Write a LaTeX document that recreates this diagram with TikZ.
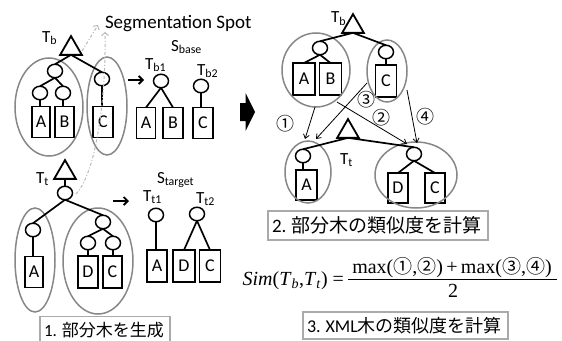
\documentclass[tikz,border=0pt]{standalone}
\usepackage{fontspec}
\setmainfont{Carlito}
\newfontfamily\cjk{Noto Sans CJK JP}
\newfontfamily\tnr{Liberation Serif}
\usetikzlibrary{shapes.geometric,arrows.meta}
\definecolor{grpc}{RGB}{135,135,135}
\definecolor{boxc}{RGB}{170,170,170}
\definecolor{segc}{RGB}{185,185,185}
\tikzset{
 every node/.style={outer sep=0pt},
 edge/.style={line width=1.7pt},
 nd/.style={ellipse,draw,line width=1.5pt,minimum width=15pt,minimum height=13.5pt,inner sep=0pt},
 leaf/.style={draw,line width=1.5pt,inner sep=0pt,minimum width=19pt,minimum height=31pt,font=\fontsize{18}{18}\selectfont},
 tri/.style={regular polygon,regular polygon sides=3,draw,line width=1.8pt,minimum size=25pt,inner sep=0pt},
 grp/.style={ellipse,draw=grpc,line width=1.5pt,inner sep=0pt},
 lab/.style={font=\fontsize{17}{17}\selectfont,inner sep=0pt,anchor=base west},
 num/.style={font=\cjk\fontsize{18}{18}\selectfont,inner sep=0pt},
 thin/.style={line width=0.8pt,-{Straight Barb[length=4pt,width=6pt]}},
 small/.style={line width=1.8pt,-{Straight Barb[length=4pt,width=8pt]}},
 seg/.style={draw=segc,line width=1pt,dash pattern=on 3pt off 2pt on 1pt off 2pt,-{Straight Barb[length=3pt,width=7pt]}},
 stepbox/.style={draw=boxc,line width=1.5pt,fill=white,inner xsep=4pt,inner ysep=0pt,align=left},
}
\begin{document}
\begin{tikzpicture}[x=1pt,y=-1pt]
\useasboundingbox (0,0) rectangle (562,340);

% ---------- left top: T_b ----------
\node[lab] (segtxt) at (105,28) {\fontsize{19}{19}\selectfont Segmentation Spot};
\node[lab] (tbl) at (42,42) {T\textsubscript{b}};
\node[tri] (t1) at (71,48.6) {};
\node[nd] (n1) at (55,71) {};
\node[nd] (n11) at (40,93) {};
\node[nd] (n12) at (63,93) {};
\node[nd] (n2) at (102,79) {};
\node[leaf,minimum width=18pt] (la) at (41,122) {A};
\node[leaf] (lb) at (64.5,122) {B};
\node[leaf,minimum width=20pt] (lc) at (103,122) {C};
\node[grp,minimum width=68pt,minimum height=98pt] (e1) at (49,107) {};
\node[grp,minimum width=40pt,minimum height=98pt] (e2) at (107,106) {};
\draw[edge] (t1.south) -- (n1.north);
\draw[edge] (t1.south) -- (n2.north);
\draw[edge] (n1.south) -- (n11.north);
\draw[edge] (n1.south) -- (n12.north);
\draw[edge] (n11.south) -- (n11.south |- la.north);
\draw[edge] (n12.south) -- (n12.south |- lb.north);
\draw[edge] (n2.south) -- (n2.south |- lc.north);

% segmentation spot arrows
\coordinate (s1a) at (82,51);
\coordinate (s1b) at (98,25);
\coordinate (s2a) at (76,194);
\coordinate (s2b) at (105,32);
\draw[seg] (s1a) -- (s1b);
\draw[seg] (s2a) .. controls (98,170) and (106,90) .. (s2b);

% ---------- S_base ----------
\coordinate (ar1a) at (128,80);
\coordinate (ar1b) at (144,80);
\draw[small] (ar1a) -- (ar1b);
\node[lab] (sbl) at (171,51) {S\textsubscript{base}};
\node[lab] (tb1l) at (145,69) {T\textsubscript{b1}};
\node[lab] (tb2l) at (197,75) {T\textsubscript{b2}};
\node[nd] (m1) at (161,81) {};
\node[leaf] (ma) at (146,123) {A};
\node[leaf,minimum width=20pt] (mb) at (173,123) {B};
\node[nd] (m2) at (201,86) {};
\node[leaf,minimum width=20pt] (mc) at (203,123) {C};
\draw[edge] (m1.south) -- (ma.north);
\draw[edge] (m1.south) -- (mb.north);
\draw[edge] (m2.south) -- (m2.south |- mc.north);

% big arrow
\fill (240,103) -- (245.5,103) -- (245.5,93) -- (255,112) -- (245.5,131) -- (245.5,121) -- (240,121) -- cycle;

% ---------- left bottom: T_t ----------
\node[lab] (ttl) at (36,183) {T\textsubscript{t}};
\node[tri] (t2) at (65,172.6) {};
\node[nd] (p0) at (65,193) {};
\node[nd] (p1) at (33,230) {};
\node[nd] (p2) at (103,222) {};
\node[nd] (p21) at (88,243) {};
\node[nd] (p22) at (113,243) {};
\node[leaf,minimum width=18pt] (pa) at (34,272) {A};
\node[leaf,minimum width=20pt,minimum height=32pt] (pd) at (88,272) {D};
\node[leaf,minimum height=32pt] (pc) at (112.5,272) {C};
\node[grp,minimum width=40pt,minimum height=104pt] (f1) at (35,260) {};
\node[grp,minimum width=70pt,minimum height=106pt] (f2) at (98,261) {};
\draw[edge] (t2.south) -- (p0.north);
\draw[edge] (p0.south) -- (p1.north);
\draw[edge] (p0.south) -- (p2.north);
\draw[edge] (p1.south) -- (p1.south |- pa.north);
\draw[edge] (p2.south) -- (p21.north);
\draw[edge] (p2.south) -- (p22.north);
\draw[edge] (p21.south) -- (p21.south |- pd.north);
\draw[edge] (p22.south) -- (p22.south |- pc.north);

% ---------- S_target ----------
\coordinate (ar2a) at (113,201);
\coordinate (ar2b) at (129,201);
\draw[small] (ar2a) -- (ar2b);
\node[lab] (stl) at (157,183) {S\textsubscript{target}};
\node[lab] (tt1l) at (143,201) {T\textsubscript{t1}};
\node[lab] (tt2l) at (196,203) {T\textsubscript{t2}};
\node[nd] (q1) at (156,215) {};
\node[leaf,minimum width=20pt,minimum height=32pt] (qa) at (157,266) {A};
\node[nd] (q2) at (197,214) {};
\node[leaf,minimum width=22pt,minimum height=32pt] (qd) at (184,266) {D};
\node[leaf,minimum width=21pt,minimum height=32pt] (qc) at (210,266) {C};
\draw[edge] (q1.south) -- (q1.south |- qa.north);
\draw[edge] (q2.south) -- (qd.north);
\draw[edge] (q2.south) -- (qc.north);

% ---------- right top: T_b ----------
\node[lab] (tbr) at (331,23) {T\textsubscript{b}};
\node[tri] (t3) at (353,26.6) {};
\node[nd] (r1) at (320,48) {};
\node[leaf,minimum width=22pt,minimum height=32pt] (ra) at (304,79) {A};
\node[leaf,minimum width=22pt,minimum height=32pt] (rb) at (330.5,79) {B};
\node[nd] (r2) at (386,52) {};
\node[leaf,minimum width=21pt,minimum height=32pt] (rc) at (386,81) {C};
\node[grp,minimum width=68pt,minimum height=74pt] (g1) at (316,70) {};
\node[grp,minimum width=40pt,minimum height=62pt] (g2) at (387,71) {};
\draw[edge] (t3.south) -- (r1.north);
\draw[edge] (t3.south) -- (r2.north);
\draw[edge] (r1.south) -- (ra.north);
\draw[edge] (r1.south) -- (rb.north);
\draw[edge] (r2.south) -- (r2.south |- rc.north);

% ---------- right bottom: T_t ----------
\node[lab] (ttr) at (340,164) {T\textsubscript{t}};
\node[tri] (t4) at (348,131.6) {};
\node[nd] (s1) at (303,156) {};
\node[leaf,minimum width=21pt,minimum height=30pt] (sa) at (306.5,185) {A};
\node[nd] (s2) at (414,154) {};
\node[leaf,minimum width=20pt,minimum height=30pt] (sd) at (398,188) {D};
\node[leaf,minimum width=20pt,minimum height=30pt] (sc) at (435,188) {C};
\node[grp,minimum width=46pt,minimum height=62pt] (h1) at (308,172) {};
\node[grp,minimum width=82pt,minimum height=66pt] (h2) at (416,175) {};
\draw[edge] (t4.south) -- (s1.north);
\draw[edge] (t4.south) -- (s2.north);
\draw[edge] (s1.south) -- (s1.south |- sa.north);
\draw[edge] (s2.south) -- (sd.north);
\draw[edge] (s2.south) -- (sc.north);

% comparison arrows
\coordinate (c1a) at (315,107);
\coordinate (c1b) at (305,139);
\coordinate (c3a) at (367,83);
\coordinate (c3b) at (316,139);
\coordinate (c2a) at (337,102);
\coordinate (c2b) at (407,144);
\coordinate (c4a) at (407,90);
\coordinate (c4b) at (417,143);
\draw[thin] (c1a) -- (c1b);
\draw[thin] (c3a) -- (c3b);
\draw[thin] (c2a) -- (c2b);
\draw[thin] (c4a) -- (c4b);
\node[num] (k1) at (285,124) {①};
\node[num] (k3) at (366,100) {③};
\node[num] (k2) at (381,118) {②};
\node[num] (k4) at (425,117) {④};

% ---------- step boxes ----------
\node[stepbox,minimum width=130pt,minimum height=28pt,text width=122pt] (b1) at (105,330.5)
  {\fontsize{17}{17}\selectfont 1. {\cjk 部分木を生成}};
\node[stepbox,minimum width=220pt,minimum height=29pt,text width=212pt] (b2) at (378,225.5)
  {\fontsize{19}{19}\selectfont 2. {\cjk 部分木の類似度を計算}};
\node[stepbox,minimum width=205pt,minimum height=27pt,text width=197pt] (b3) at (405.5,325.5)
  {\fontsize{18}{18}\selectfont 3. XML{\cjk 木の類似度を計算}};

% ---------- formula ----------
\node[inner sep=0pt,anchor=base east,font=\tnr\fontsize{20}{20}\selectfont] (lhs) at (344,285)
  {\textit{Sim}(\textit{T}\textsubscript{\textit{b}},\textit{T}\textsubscript{\textit{t}}) =};
\node[inner sep=0pt,anchor=base,font=\tnr\fontsize{20}{20}\selectfont] (numer) at (452,273)
  {max({\cjk\fontsize{19}{19}\selectfont ①},{\cjk\fontsize{19}{19}\selectfont ②})\,+\,max({\cjk\fontsize{19}{19}\selectfont ③},{\cjk\fontsize{19}{19}\selectfont ④})};
\node[inner sep=0pt,anchor=base,font=\tnr\fontsize{20}{20}\selectfont] (denom) at (453,297) {2};
\draw[line width=0.8pt] (348,279) -- (557,279);
\end{tikzpicture}
\end{document}
